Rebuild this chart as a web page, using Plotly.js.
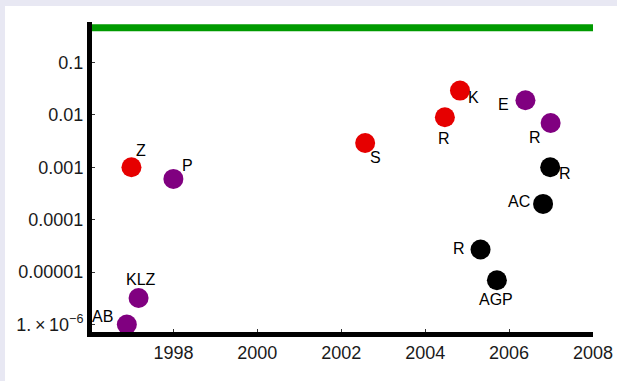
<!DOCTYPE html>
<html>
<head>
<meta charset="utf-8">
<script src="https://cdn.plot.ly/plotly-3.0.1.min.js"></script>
<style>
  html, body { margin: 0; padding: 0; background: #e8e8f3; width: 617px; height: 381px; overflow: hidden; }
  #chart { position: absolute; left: 5px; top: 6px; width: 612px; height: 375px; }
</style>
</head>
<body>
<div id="chart"></div>
<script>
// Measurements grouped by marker colour
const redYears   = [1997.0, 2002.57, 2004.47, 2004.83];
const redValues  = [0.001, 0.0029, 0.009, 0.029];
const redLabels  = ["Z", "S", "R", "K"];

const purpleYears  = [1996.89, 1997.17, 1998.0, 2006.39, 2006.99];
const purpleValues = [1e-6, 3.2e-6, 0.0006, 0.019, 0.007];
const purpleLabels = ["AB", "KLZ", "P", "E", "R"];

const blackYears  = [2005.32, 2005.71, 2006.81, 2006.98];
const blackValues = [2.7e-5, 7e-6, 0.0002, 0.001];
const blackLabels = ["R", "AGP", "AC", "R"];

// Reference level drawn across the top
const limitYears  = [1996, 2008];
const limitValues = [0.458, 0.458];

// Axis ticks
const yTickValues = [1e-6, 1e-5, 1e-4, 1e-3, 1e-2, 1e-1];
const yTickLabels = ["1.\u2009×\u200910<sup>−6</sup>", "0.00001", "0.0001", "0.001", "0.01", "0.1"];
const xTickValues = [1998, 2000, 2002, 2004, 2006, 2008];

// Label offsets (pixels, right / up) for each point's caption
const redOffsets    = [[10, 17], [10, -14], [-1, -21], [14, -7]];
const purpleOffsets = [[-24, 8], [2, 19], [14, 13], [-22, -4], [-16, -15]];
const blackOffsets  = [[-22, 1], [-1, -19], [-24, 2], [15, -6]];

const markerSize = 20;

function pointTrace(xs, ys, color) {
  return {
    x: xs, y: ys, type: "scatter", mode: "markers",
    marker: { color: color, size: markerSize, line: { width: 0 } },
    hoverinfo: "skip", showlegend: false, cliponaxis: false
  };
}

const traces = [
  {
    x: limitYears, y: limitValues, type: "scatter", mode: "lines",
    line: { color: "#009a00", width: 7 }, hoverinfo: "skip", showlegend: false
  },
  pointTrace(redYears, redValues, "#e60000"),
  pointTrace(purpleYears, purpleValues, "#800080"),
  pointTrace(blackYears, blackValues, "#000000")
];

const annotations = [];
function addLabels(xs, ys, labels, offsets) {
  for (let i = 0; i < xs.length; i++) {
    annotations.push({
      x: xs[i], y: Math.log10(ys[i]), xref: "x", yref: "y",
      text: labels[i], showarrow: false,
      xshift: offsets[i][0], yshift: offsets[i][1],
      font: { family: "Liberation Sans, Arial, sans-serif", size: 16, color: "#000" }
    });
  }
}
addLabels(redYears, redValues, redLabels, redOffsets);
addLabels(purpleYears, purpleValues, purpleLabels, purpleOffsets);
addLabels(blackYears, blackValues, blackLabels, blackOffsets);

const layout = {
  width: 612, height: 375,
  margin: { l: 87, r: 24, t: 16, b: 48.5, pad: 0 },
  paper_bgcolor: "#ffffff",
  plot_bgcolor: "#ffffff",
  font: { family: "Liberation Sans, Arial, sans-serif", size: 18, color: "#1a1a1a" },
  showlegend: false,
  xaxis: {
    range: [1996.06, 2008],
    tickvals: xTickValues,
    ticktext: xTickValues.map(String),
    showgrid: false, zeroline: false,
    showline: true, linecolor: "#000", linewidth: 5,
    ticks: "inside", ticklen: 3, tickwidth: 1, tickcolor: "#333",
    tickfont: { size: 18 },
    fixedrange: true
  },
  yaxis: {
    type: "log",
    range: [-6.143, -0.229],
    tickvals: yTickValues,
    ticktext: yTickLabels,
    showgrid: false, zeroline: false,
    showline: true, linecolor: "#000", linewidth: 5,
    ticks: "inside", ticklen: 3, tickwidth: 1, tickcolor: "#333",
    tickfont: { size: 18 },
    fixedrange: true
  },
  annotations: annotations
};

Plotly.newPlot("chart", traces, layout, { displayModeBar: false, staticPlot: true });
</script>
</body>
</html>
